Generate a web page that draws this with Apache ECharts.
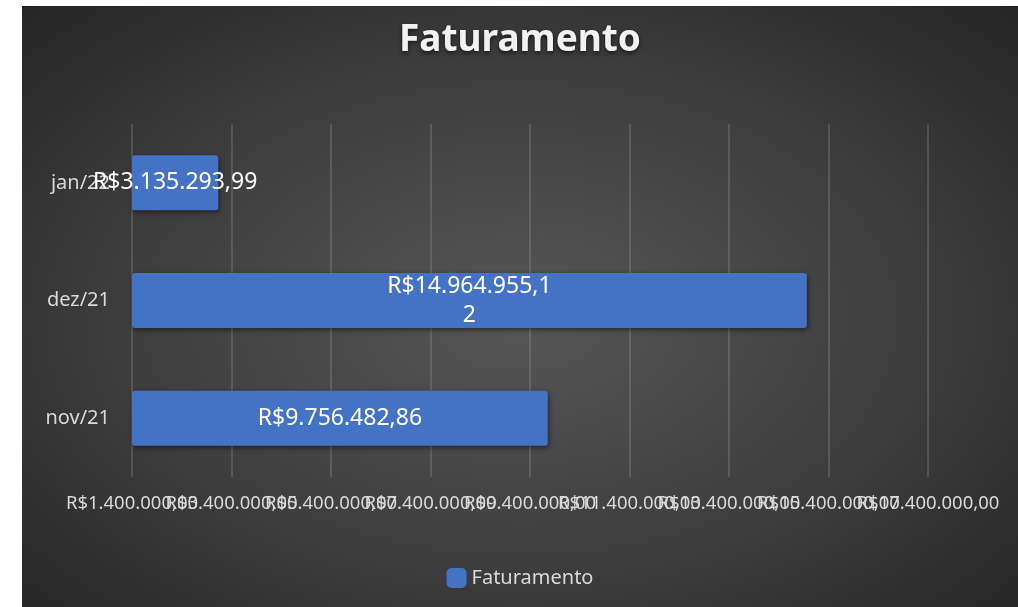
<!DOCTYPE html>
<html lang="pt">
<head>
    <meta charset="UTF-8">
    <title>Faturamento</title>
    <script src="https://cdn.jsdelivr.net/npm/echarts@6/dist/echarts.min.js"></script>
    <style>
        html, body{
            margin: 0;
            padding: 0;
            background: #fff;
        }
        #chart{
            position: absolute;
            left: 22px;
            top: 6px;
            width: 996px;
            height: 601px;
            background: radial-gradient(ellipse at 50% 52%, #565656 0%, #3e3e3e 55%, #252525 100%);
        }
    </style>
</head>
<body>
<div id="chart"></div>
<script>
    // dados
    var meses = ['nov/21', 'dez/21', 'jan/22'];
    var faturamento = [9756482.86, 14964955.12, 3135293.99];
    var eixoMin = 1400000;
    var eixoMax = 17400000;
    var eixoPasso = 2000000;

    function reais(v){
        var p = v.toFixed(2).split('.');
        return 'R$' + p[0].replace(/\B(?=(\d{3})+(?!\d))/g, '.') + ',' + p[1];
    }

    var fonte = 'Noto Sans';

    // o ECharts esconde rótulos sobrepostos; dois eixos iguais, cada um com metade dos rótulos
    function eixoX(par, comGrade){
        return {
            type: 'value',
            position: 'bottom',
            offset: 0,
            min: eixoMin,
            max: eixoMax,
            interval: eixoPasso,
            axisLine: {show: false},
            axisTick: {show: false},
            splitLine: {
                show: comGrade,
                lineStyle: {color: 'rgba(217,217,217,0.22)', width: 1.5}
            },
            axisLabel: {
                color: '#d9d9d9',
                fontFamily: fonte,
                fontSize: 18.5,
                margin: 17,
                hideOverlap: false,
                formatter: function(v){
                    var i = Math.round((v - eixoMin) / eixoPasso);
                    return (i % 2 === par) ? reais(v) : '';
                }
            }
        };
    }

    var option = {
        backgroundColor: 'transparent',
        title: {
            text: 'Faturamento',
            left: 'center',
            top: 11,
            textStyle: {
                color: '#f2f2f2',
                fontFamily: fonte,
                fontSize: 37,
                fontWeight: 'bold',
                textShadowColor: 'rgba(0,0,0,0.6)',
                textShadowBlur: 4,
                textShadowOffsetY: 2
            }
        },
        legend: {
            data: ['Faturamento'],
            left: 'center',
            top: 557,
            itemWidth: 20,
            itemHeight: 20,
            icon: 'roundRect',
            textStyle: {
                color: '#d9d9d9',
                fontFamily: fonte,
                fontSize: 20
            }
        },
        grid: {
            left: 110,
            right: 90,
            top: 118,
            bottom: 130
        },
        xAxis: [eixoX(0, true), eixoX(1, false)],
        yAxis: {
            type: 'category',
            data: meses,
            axisLine: {show: false},
            axisTick: {show: false},
            splitLine: {show: false},
            axisLabel: {
                color: '#d9d9d9',
                fontFamily: fonte,
                fontSize: 20,
                margin: 22
            }
        },
        series: [
            {
                name: 'Faturamento',
                type: 'bar',
                xAxisIndex: 0,
                data: faturamento,
                barWidth: 55,
                itemStyle: {
                    color: '#4472C4',
                    borderRadius: 3,
                    shadowColor: 'rgba(0,0,0,0.5)',
                    shadowBlur: 5,
                    shadowOffsetX: 1,
                    shadowOffsetY: 2
                },
                label: {
                    show: true,
                    position: 'inside',
                    color: '#fff',
                    fontFamily: fonte,
                    fontSize: 23,
                    lineHeight: 29,
                    formatter: function(p){
                        // quebra como no Excel quando o texto não cabe
                        var s = reais(p.value);
                        return s.length > 14 ? s.slice(0, 14) + '\n' + s.slice(14) : s;
                    }
                }
            }
        ]
    };
    var myChart = echarts.init(document.getElementById('chart'));
    myChart.setOption(option);
</script>
</body>
</html>
